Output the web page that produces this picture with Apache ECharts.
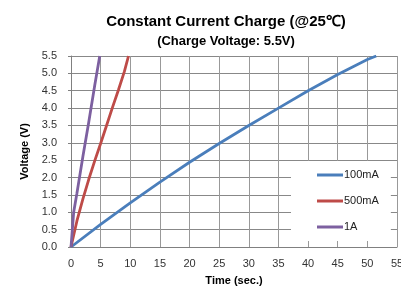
<!DOCTYPE html>
<html>
<head>
<meta charset="utf-8">
<script src="https://cdn.jsdelivr.net/npm/echarts@6/dist/echarts.min.js"></script>
<style>
  html, body { margin: 0; padding: 0; background: #fff; }
  #chart { width: 401px; height: 286px; }
</style>
</head>
<body>
<div id="chart"></div>
<script>
// values: [time (s), voltage (V)]
const seriesNames = ['100mA', '500mA', '1A']
const current100mA = [[0, 0], [5, 0.65], [10, 1.27], [15, 1.87], [20, 2.44], [25, 2.98], [30, 3.5], [35, 4.0], [40, 4.5], [45, 4.97], [50, 5.4], [51.5, 5.5]]
const current500mA = [[0, 0], [1, 0.75], [2, 1.38], [3, 1.95], [4, 2.48], [5, 2.98], [6, 3.5], [7, 4.02], [8, 4.52], [9, 5.05], [9.7, 5.5]]
const current1A = [[0, 0], [0.45, 1.0], [1, 1.55], [2, 2.6], [3, 3.6], [4, 4.65], [4.85, 5.5]]
const colors = ['#4a7ebb', '#be4b48', '#7d60a0']

const font = 'Liberation Sans, Arial, sans-serif'
const chart = echarts.init(document.getElementById('chart'))

const makeLine = (name, data, color) => ({
  name: name,
  type: 'line',
  data: data,
  showSymbol: false,
  symbol: 'none',
  lineStyle: { color: color, width: 2.8 },
  itemStyle: { color: color }
})

chart.setOption({
  animation: false,
  title: [{
    text: 'Constant Current Charge (@25℃)',
    left: 221,
    top: 9,
    textAlign: 'center',
    textStyle: { fontFamily: font, fontSize: 15, fontWeight: 'bold', color: '#000' }
  }, {
    text: '(Charge Voltage: 5.5V)',
    left: 221,
    top: 30,
    textAlign: 'center',
    textStyle: { fontFamily: font, fontSize: 13, fontWeight: 'bold', color: '#000' }
  }],
  grid: { left: 71, right: 4, top: 56, bottom: 39, containLabel: false, outerBoundsMode: 'none' },
  legend: {
    orient: 'vertical',
    left: 291,
    top: 161,
    padding: [7, 12, 7, 26],
    backgroundColor: '#fff',
    itemWidth: 26,
    itemHeight: 3,
    itemGap: 12,
    icon: 'rect',
    textStyle: { fontFamily: font, fontSize: 11, color: '#222', padding: [0, 0, 0, -4], lineHeight: 14 },
    data: seriesNames
  },
  xAxis: {
    type: 'value',
    min: 0,
    max: 55,
    interval: 5,
    name: 'Time (sec.)',
    nameLocation: 'middle',
    nameGap: 28,
    nameTextStyle: { fontFamily: font, fontSize: 11, fontWeight: 'bold', color: '#000' },
    axisLine: { show: true, lineStyle: { color: '#808080', width: 1 } },
    axisTick: { show: false },
    axisLabel: { fontFamily: font, fontSize: 11, color: '#333', margin: 11, showMaxLabel: true },
    splitLine: { show: true, lineStyle: { color: '#999999', width: 1 } }
  },
  yAxis: {
    type: 'value',
    min: 0,
    max: 5.5,
    interval: 0.5,
    name: 'Voltage (V)',
    nameLocation: 'middle',
    nameRotate: 90,
    nameGap: 41,
    nameTextStyle: { fontFamily: font, fontSize: 11, fontWeight: 'bold', color: '#000' },
    axisLine: { show: true, lineStyle: { color: '#808080', width: 1 } },
    axisTick: { show: true, length: 3, lineStyle: { color: '#808080' } },
    axisLabel: {
      fontFamily: font,
      fontSize: 11,
      color: '#333',
      margin: 14,
      formatter: v => v.toFixed(1)
    },
    splitLine: { show: true, lineStyle: { color: '#888888', width: 1 } }
  },
  series: [
    makeLine(seriesNames[0], current100mA, colors[0]),
    makeLine(seriesNames[1], current500mA, colors[1]),
    makeLine(seriesNames[2], current1A, colors[2])
  ]
})
</script>
</body>
</html>
